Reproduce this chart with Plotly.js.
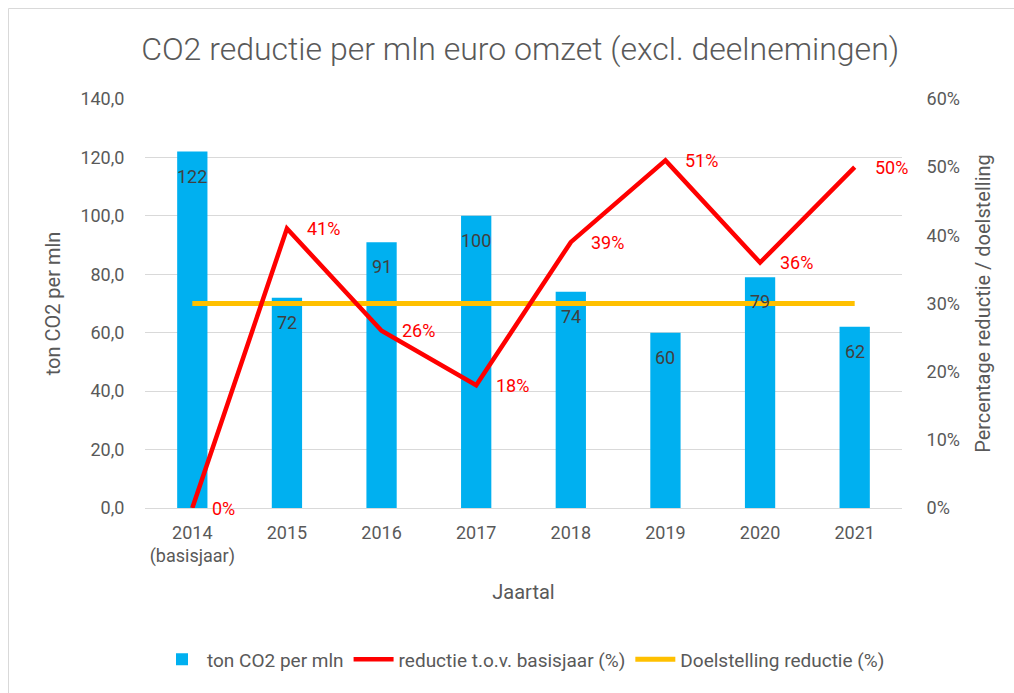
<!DOCTYPE html>
<html>
<head>
<meta charset="utf-8">
<script src="https://cdn.plot.ly/plotly-3.0.1.min.js"></script>
<style>
html,body{margin:0;padding:0;background:#fff;}
#chart{width:1014px;height:693px;}
</style>
</head>
<body>
<div id="chart"></div>
<script>
// Data
const categories = ["2014<br>(basisjaar)", "2015", "2016", "2017", "2018", "2019", "2020", "2021"];
const tonCO2 = [122, 72, 91, 100, 74, 60, 79, 62];
const reductie = [0.00, 0.41, 0.26, 0.18, 0.39, 0.51, 0.36, 0.50];
const doelstelling = [0.30, 0.30, 0.30, 0.30, 0.30, 0.30, 0.30, 0.30];
const leftTicks = [0, 20, 40, 60, 80, 100, 120, 140];
const rightTicks = [0, 0.1, 0.2, 0.3, 0.4, 0.5, 0.6];

const FONT = "Roboto, 'Open Sans', sans-serif";
const GRAY = '#595959';

const traces = [
  {
    type: 'bar', x: categories, y: tonCO2, name: 'ton CO2 per mln',
    marker: {color: '#00B0F0'}, width: 0.32, yaxis: 'y', legendrank: 1,
    hoverinfo: 'skip'
  },
  {
    type: 'scatter', mode: 'lines', x: categories, y: doelstelling, name: 'Doelstelling reductie (%)',
    line: {color: '#FFC000', width: 5}, yaxis: 'y2', legendrank: 3
  },
  {
    type: 'scatter', mode: 'lines', x: categories, y: reductie, name: 'reductie t.o.v. basisjaar (%)',
    line: {color: '#FF0000', width: 4.5}, yaxis: 'y2', legendrank: 2
  }
];

const annotations = [];
categories.forEach((c, i) => {
  annotations.push({
    x: i, y: tonCO2[i], xref: 'x', yref: 'y', text: String(Math.round(tonCO2[i])),
    showarrow: false, yanchor: 'top', xanchor: 'center', yshift: -12,
    font: {family: FONT, size: 18, color: '#404040'}
  });
  annotations.push({
    x: i, y: reductie[i], xref: 'x', yref: 'y2', text: Math.round(reductie[i] * 100) + '%',
    showarrow: false, yanchor: 'middle', xanchor: 'left', xshift: 18,
    font: {family: FONT, size: 18, color: '#FF0000'}
  });
});

const layout = {
  width: 1014, height: 693,
  margin: {l: 145, r: 112, t: 99, b: 185},
  paper_bgcolor: '#ffffff', plot_bgcolor: '#ffffff',
  font: {family: FONT, color: GRAY, size: 18},
  separators: ',.',
  title: {text: 'CO2 reductie per mln euro omzet (excl. deelnemingen)', x: 0.513, xanchor: 'center', y: 0.93, yanchor: 'middle',
          font: {family: FONT, size: 32, color: GRAY, weight: 300}},
  showlegend: true,
  legend: {orientation: 'h', x: 0.5, xanchor: 'center', y: -0.37, yanchor: 'middle',
           font: {family: FONT, size: 19, color: GRAY}, traceorder: 'normal', itemwidth: 40},
  xaxis: {
    type: 'category', range: [-0.5, 7.5], showgrid: false, showline: true, linecolor: '#D9D9D9', linewidth: 1,
    ticks: 'outside', ticklen: 8, tickcolor: 'rgba(0,0,0,0)',
    tickfont: {family: FONT, size: 18, color: GRAY},
    title: {text: 'Jaartal', font: {family: FONT, size: 20, color: GRAY}, standoff: 18},
    zeroline: false
  },
  yaxis: {
    range: [0, 140], tickvals: leftTicks, tickformat: '.1f',
    showgrid: true, gridcolor: '#D9D9D9', gridwidth: 1, zeroline: false, showline: false,
    ticks: 'outside', ticklen: 16, tickcolor: 'rgba(0,0,0,0)',
    tickfont: {family: FONT, size: 18, color: GRAY},
    title: {text: 'ton CO2 per mln', font: {family: FONT, size: 20, color: GRAY}, standoff: 14}
  },
  yaxis2: {
    overlaying: 'y', side: 'right', range: [0, 0.6], tickvals: rightTicks, tickformat: '.0%',
    showgrid: false, zeroline: false, showline: false,
    ticks: 'outside', ticklen: 20, tickcolor: 'rgba(0,0,0,0)',
    tickfont: {family: FONT, size: 18, color: GRAY},
    title: {text: 'Percentage reductie / doelstelling', font: {family: FONT, size: 20, color: GRAY}, standoff: 16}
  },
  annotations: annotations,
  shapes: [{
    type: 'rect', xref: 'paper', yref: 'paper',
    x0: (8.5 - 145) / 757, x1: 1.5, y0: -1, y1: (508 - 8.5) / 409,
    line: {color: '#D9D9D9', width: 1}, fillcolor: 'rgba(0,0,0,0)', layer: 'below'
  }]
};

Plotly.newPlot('chart', traces, layout, {displayModeBar: false, staticPlot: true});
</script>
</body>
</html>
